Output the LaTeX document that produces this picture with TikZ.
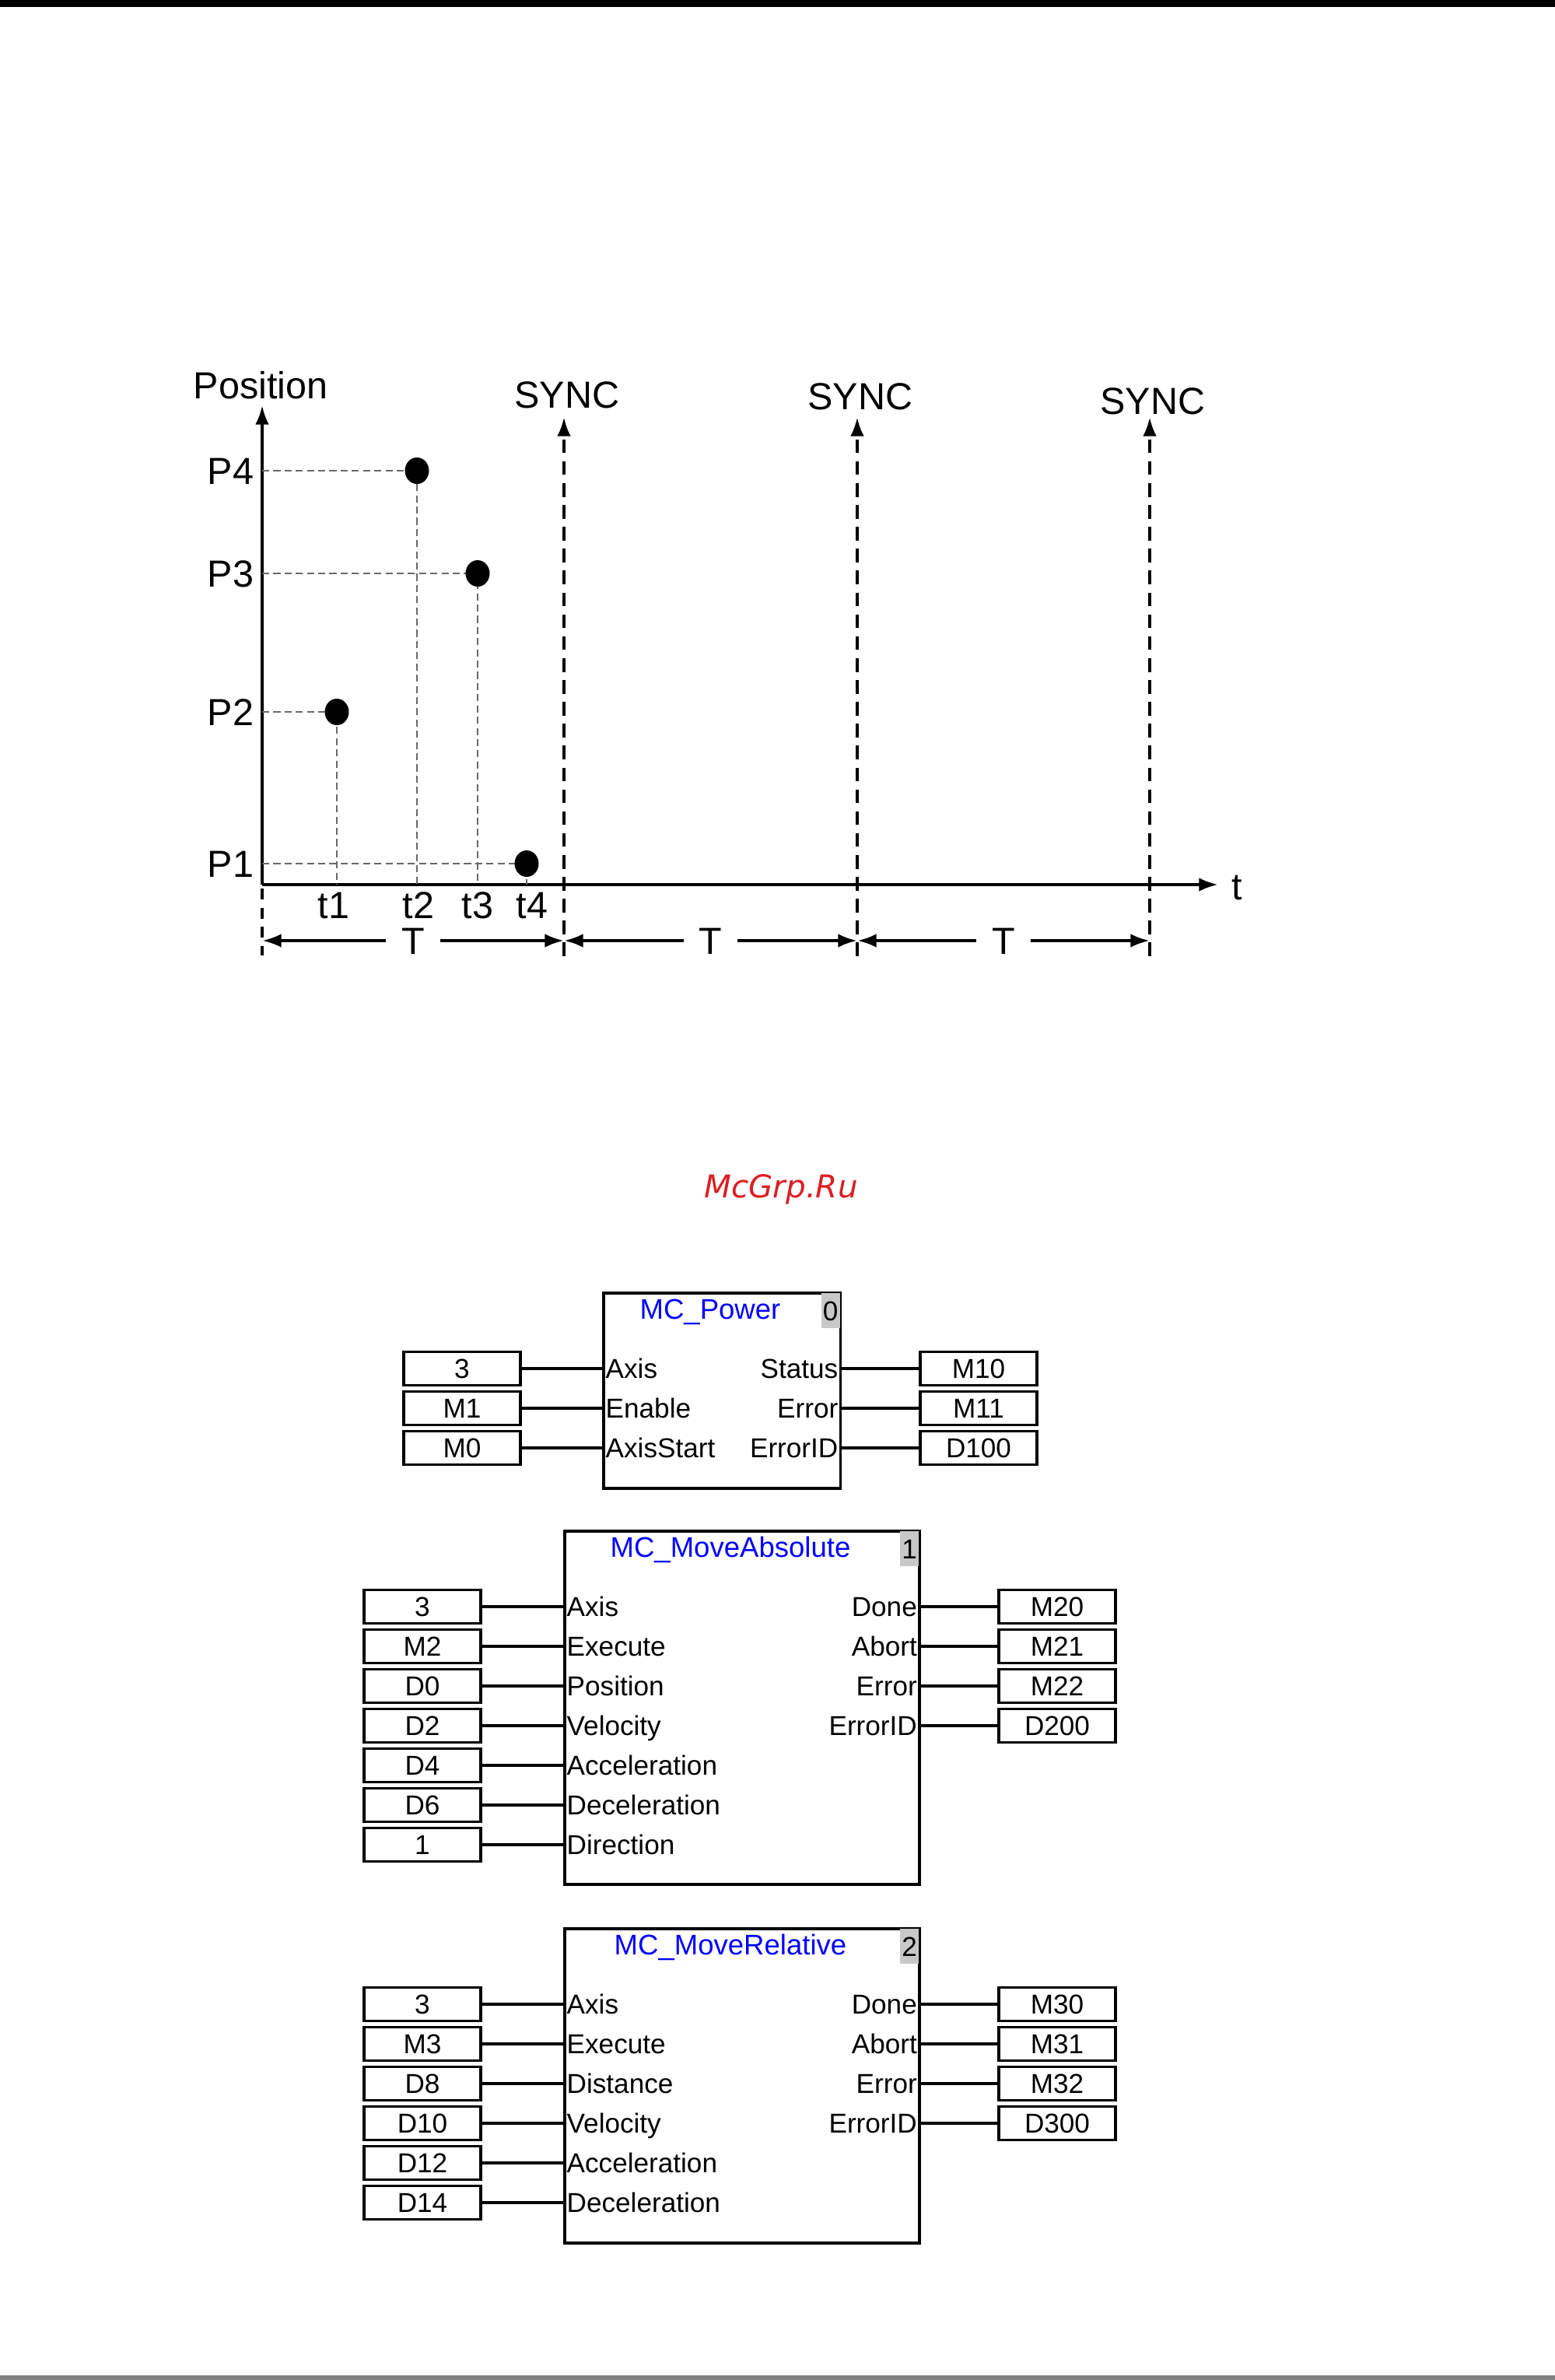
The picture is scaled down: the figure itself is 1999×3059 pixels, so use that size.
\documentclass[tikz,border=0pt]{standalone}
\usepackage{fontspec}
\setmainfont{Liberation Sans}
\newfontfamily\wmfont{DejaVu Sans}
\usepackage{tikz}
\usetikzlibrary{positioning,arrows.meta}

\definecolor{helpgray}{RGB}{105,105,105}
\definecolor{idxgray}{RGB}{200,200,200}
\definecolor{wmred}{RGB}{220,30,35}

\tikzset{
  tip/.style={-{Latex[length=7pt,width=5pt]}},
  axisline/.style={line width=1.15pt,tip},
  syncline/.style={line width=1.2pt,dash pattern=on 5pt off 3pt},
  helpline/.style={helpgray,line width=0.65pt,dash pattern=on 2.6pt off 1.5pt},
  chartlbl/.style={inner sep=0pt,text height=3.45mm,text depth=0pt,font=\fontsize{13.8}{16}\selectfont},
  fbblock/.style={draw,line width=1pt,anchor=north west,inner sep=0pt},
  fbtitle/.style={blue,inner sep=0pt,text height=2.55mm,text depth=0pt,font=\fontsize{10.4}{12}\selectfont},
  fbidx/.style={fill=idxgray,anchor=north east,minimum width=2.4mm,minimum height=4.5mm,inner sep=0pt,font=\fontsize{10}{12}\selectfont},
  valbox/.style={draw,line width=1pt,minimum width=15mm,minimum height=4.3mm,inner sep=0pt,text height=2.5mm,text depth=0pt,font=\fontsize{10}{12}\selectfont},
  pinlbl/.style={inner sep=0pt,inner xsep=0.4mm,text height=2.5mm,text depth=0pt,font=\fontsize{10}{12}\selectfont},
  wire/.style={line width=1.1pt}
}

\begin{document}
\begin{tikzpicture}[x=0.1mm,y=-0.1mm]
\useasboundingbox (0,0) rectangle (1999,3059);
\fill[black] (0,0) rectangle (1999,9);
\fill[gray] (0,3053) rectangle (1999,3059);

% position over time
\draw[axisline] (337,1137) -- (1566,1137);
\draw[axisline] (337,1137) -- (337,521);
\node[chartlbl] (poslbl) at (335,495) {Position};
\node[chartlbl] (tlbl) at (1590,1139) {t};
\foreach \x/\ly [count=\i] in {725/507,1102/509,1478/515} {
  \draw[syncline,tip] (\x,1229) -- (\x,536);
  \node[chartlbl] (sync\i) at (\x+4,\ly) {SYNC};
}
\foreach \n/\x/\y in {1/677/1110,2/433/915,3/614/737,4/536/605} {
  \draw[helpline] (337,\y) -- (\x,\y) -- (\x,1137);
  \fill (\x,\y) ellipse [x radius=15.5,y radius=17];
  \node[chartlbl,anchor=east] (plbl\n) at (327,\y) {P\n};
}
\foreach \n/\x in {1/429,2/538,3/614,4/684}
  \node[chartlbl] (tk\n) at (\x,1163) {t\n};
\foreach \a/\b [count=\i] in {337/725,725/1102,1102/1478}
  \draw[line width=1.15pt,{Latex[length=7pt,width=5pt]}-{Latex[length=7pt,width=5pt]}] (\a,1209) -- (\b,1209)
    node[midway,fill=white,chartlbl,inner xsep=2mm] (per\i) {T};
\draw[syncline,dash pattern=on 4pt off 3pt] (337,1142) -- (337,1228);

\node[wmred,font=\wmfont\fontsize{11.5}{14}\selectfont\itshape] (wm) at (1004,1529) {McGrp.Ru};

% MC_Power
\node[fbblock,minimum width=30.45mm,minimum height=25.1mm] (pwr) at (774,1660) {};
\node[fbidx] (pwr-n) at ([xshift=-0.5pt,yshift=-0.5pt]pwr.north east) {0};
\node[fbtitle] (pwr-t) at (913,1683) {MC\_Power};
\foreach \v/\p [count=\i] in {3/Axis,M1/Enable,M0/AxisStart} {
  \node[valbox] (pwr-in\i) at (594,{1708+51*\i}) {\v};
  \draw[wire] (pwr-in\i.east) -- (pwr-in\i.east -| pwr.west);
  \node[pinlbl,anchor=west] (pwr-a\i) at (pwr-in\i.east -| pwr.west) {\p};
}
\foreach \v/\p [count=\i] in {M10/Status,M11/Error,D100/ErrorID} {
  \node[valbox] (pwr-out\i) at (1258,{1708+51*\i}) {\v};
  \draw[wire] (pwr-out\i.west) -- (pwr-out\i.west -| pwr.east);
  \node[pinlbl,anchor=east] (pwr-b\i) at (pwr-out\i.west -| pwr.east) {\p};
}

% MC_MoveAbsolute
\node[fbblock,minimum width=45.6mm,minimum height=45.4mm] (abs) at (724,1966) {};
\node[fbidx] (abs-n) at ([xshift=-0.5pt,yshift=-0.5pt]abs.north east) {1};
\node[fbtitle] (abs-t) at (939,1989) {MC\_MoveAbsolute};
\foreach \v/\p [count=\i] in {3/Axis,M2/Execute,D0/Position,D2/Velocity,D4/Acceleration,D6/Deceleration,1/Direction} {
  \node[valbox] (abs-in\i) at (543,{2014+51*\i}) {\v};
  \draw[wire] (abs-in\i.east) -- (abs-in\i.east -| abs.west);
  \node[pinlbl,anchor=west] (abs-a\i) at (abs-in\i.east -| abs.west) {\p};
}
\foreach \v/\p [count=\i] in {M20/Done,M21/Abort,M22/Error,D200/ErrorID} {
  \node[valbox] (abs-out\i) at (1359,{2014+51*\i}) {\v};
  \draw[wire] (abs-out\i.west) -- (abs-out\i.west -| abs.east);
  \node[pinlbl,anchor=east] (abs-b\i) at (abs-out\i.west -| abs.east) {\p};
}

% MC_MoveRelative
\node[fbblock,minimum width=45.6mm,minimum height=40.4mm] (rel) at (724,2477) {};
\node[fbidx] (rel-n) at ([xshift=-0.5pt,yshift=-0.5pt]rel.north east) {2};
\node[fbtitle] (rel-t) at (939,2500) {MC\_MoveRelative};
\foreach \v/\p [count=\i] in {3/Axis,M3/Execute,D8/Distance,D10/Velocity,D12/Acceleration,D14/Deceleration} {
  \node[valbox] (rel-in\i) at (543,{2525+51*\i}) {\v};
  \draw[wire] (rel-in\i.east) -- (rel-in\i.east -| rel.west);
  \node[pinlbl,anchor=west] (rel-a\i) at (rel-in\i.east -| rel.west) {\p};
}
\foreach \v/\p [count=\i] in {M30/Done,M31/Abort,M32/Error,D300/ErrorID} {
  \node[valbox] (rel-out\i) at (1359,{2525+51*\i}) {\v};
  \draw[wire] (rel-out\i.west) -- (rel-out\i.west -| rel.east);
  \node[pinlbl,anchor=east] (rel-b\i) at (rel-out\i.west -| rel.east) {\p};
}
\end{tikzpicture}
\end{document}
